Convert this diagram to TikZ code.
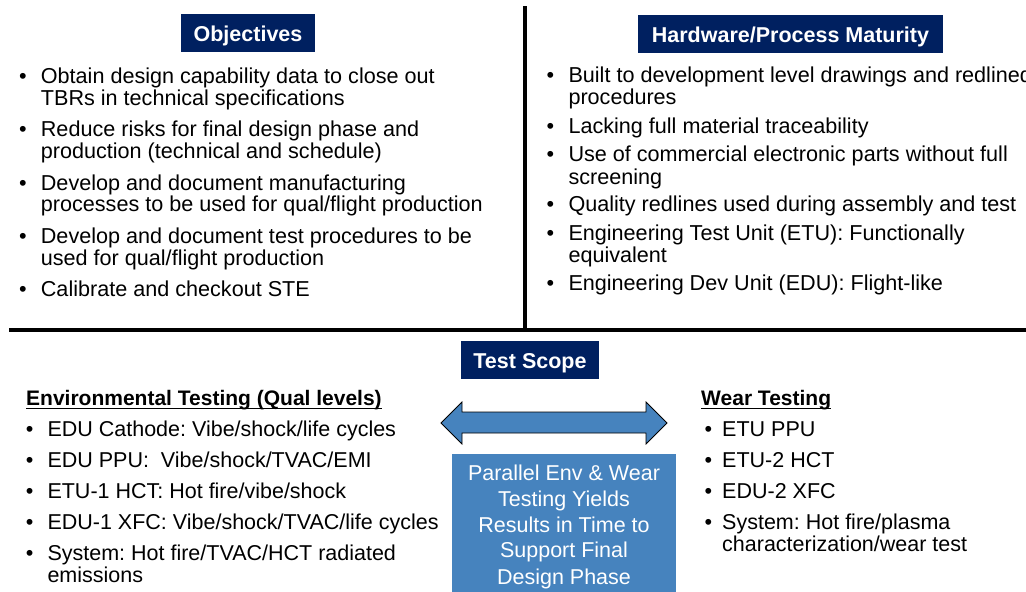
\documentclass[tikz,border=0pt]{standalone}
\usepackage{fontspec}
\setmainfont{Liberation Sans}
\frenchspacing
\definecolor{navy}{RGB}{0,32,96}
\definecolor{steel}{RGB}{70,131,190}
\begin{document}
\begin{tikzpicture}[x=1pt,y=-1pt,
  txt/.style={anchor=base west,inner sep=0pt,font=\fontsize{21.6}{22}\selectfont},
  txtb/.style={anchor=base west,inner sep=0pt,font=\fontsize{21.5}{22}\selectfont},
  bul/.style={anchor=base west,inner sep=0pt,font=\fontsize{21.6}{22}\selectfont},
  head/.style={fill=navy,text=white,inner sep=0pt,font=\fontsize{21.5}{22}\selectfont\bfseries,
    minimum height=38pt,text height=17pt,text depth=0pt},
  subhead/.style={anchor=base west,inner sep=0pt,font=\fontsize{21}{22}\selectfont\bfseries},
  boxtxt/.style={anchor=base,inner sep=0pt,text=white,font=\fontsize{21.5}{26}\selectfont},
  rule/.style={line width=4pt,black}
]
\useasboundingbox (0,0) rectangle (1026,592);
% dividing lines
\coordinate (vtop) at (524.5,6);
\coordinate (vbot) at (524.5,329.5);
\coordinate (hl) at (9,329.5);
\coordinate (hr) at (1026,329.5);
\draw[rule] (vtop) -- (vbot);
\draw[rule] (hl) -- (hr);

% headers
\node[head,minimum width=134pt] (objh) at (248,33) {Objectives};
\node[head,minimum width=305pt] (hwh) at (790.5,34) {Hardware/Process Maturity};
\node[head,minimum width=138pt] (tsh) at (530,360) {Test Scope};

% Objectives
\node[bul] (ob1) at (19,83.3) {•};
\node[txt] (o1a) at (40.7,83.3) {Obtain design capability data to close out};
\node[txt] (o1b) at (40.7,105.3) {TBRs in technical specifications};
\node[bul] (ob2) at (19,136.7) {•};
\node[txt] (o2a) at (40.7,136.7) {Reduce risks for final design phase and};
\node[txt] (o2b) at (40.7,158.3) {production (technical and schedule)};
\node[bul] (ob3) at (19,190) {•};
\node[txt] (o3a) at (40.7,190) {Develop and document manufacturing};
\node[txt] (o3b) at (40.7,211.7) {processes to be used for qual/flight production};
\node[bul] (ob4) at (19,243.3) {•};
\node[txt] (o4a) at (40.7,243.3) {Develop and document test procedures to be};
\node[txt] (o4b) at (40.7,265) {used for qual/flight production};
\node[bul] (ob5) at (19,296.7) {•};
\node[txt] (o5a) at (40.7,296.7) {Calibrate and checkout STE};

% Hardware
\node[bul] (hb1) at (546.5,82.7) {•};
\node[txt] (h1a) at (568.3,82.7) {Built to development level drawings and redlined};
\node[txt] (h1b) at (568.3,104.7) {procedures};
\node[bul] (hb2) at (546.5,133.3) {•};
\node[txt] (h2a) at (568.3,133.3) {Lacking full material traceability};
\node[bul] (hb3) at (546.5,161.7) {•};
\node[txt] (h3a) at (568.3,161.7) {Use of commercial electronic parts without full};
\node[txt] (h3b) at (568.3,184) {screening};
\node[bul] (hb4) at (546.5,211.7) {•};
\node[txt] (h4a) at (568.3,211.7) {Quality redlines used during assembly and test};
\node[bul] (hb5) at (546.5,240.7) {•};
\node[txt] (h5a) at (568.3,240.7) {Engineering Test Unit (ETU): Functionally};
\node[txt] (h5b) at (568.3,262.7) {equivalent};
\node[bul] (hb6) at (546.5,290.7) {•};
\node[txt] (h6a) at (568.3,290.7) {Engineering Dev Unit (EDU): Flight-like};

% Environmental testing
\node[subhead] (envh) at (26,405) {Environmental Testing (Qual levels)};
\draw[line width=1.4pt] ([yshift=-3.5pt]envh.base west) -- ([yshift=-3.5pt]envh.base east);
\node[bul] (eb1) at (25.6,436.7) {•};
\node[txtb] (e1) at (47.3,436.7) {EDU Cathode: Vibe/shock/life cycles};
\node[bul] (eb2) at (25.6,467.3) {•};
\node[txtb] (e2) at (47.3,467.3) {EDU PPU:\ \ Vibe/shock/TVAC/EMI};
\node[bul] (eb3) at (25.6,498.7) {•};
\node[txtb] (e3) at (47.3,498.7) {ETU-1 HCT: Hot fire/vibe/shock};
\node[bul] (eb4) at (25.6,529.3) {•};
\node[txtb] (e4) at (47.3,529.3) {EDU-1 XFC: Vibe/shock/TVAC/life cycles};
\node[bul] (eb5) at (25.6,560.7) {•};
\node[txtb] (e5a) at (47.3,560.7) {System: Hot fire/TVAC/HCT radiated};
\node[txtb] (e5b) at (47.3,582.7) {emissions};

% Wear testing
\node[subhead] (wh) at (701,405) {Wear Testing};
\draw[line width=1.4pt] ([yshift=-3.5pt]wh.base west) -- ([yshift=-3.5pt]wh.base east);
\node[bul] (wb1) at (704.3,436.7) {•};
\node[txtb] (w1) at (722,436.7) {ETU PPU};
\node[bul] (wb2) at (704.3,467.3) {•};
\node[txtb] (w2) at (722,467.3) {ETU-2 HCT};
\node[bul] (wb3) at (704.3,498.7) {•};
\node[txtb] (w3) at (722,498.7) {EDU-2 XFC};
\node[bul] (wb4) at (704.3,529.3) {•};
\node[txtb] (w4a) at (722,529.3) {System: Hot fire/plasma};
\node[txtb] (w4b) at (722,551) {characterization/wear test};

% double arrow
\draw[fill=steel,draw=black,line width=0.8pt,line join=miter]
  (441,423) -- (462,402) -- (462,412) -- (646,412) -- (646,402) -- (667,423)
  -- (646,444) -- (646,433) -- (462,433) -- (462,444) -- cycle;

% blue box
\fill[steel] (452,454) rectangle (676,600);
\node[boxtxt] (p1) at (564,480) {Parallel Env \& Wear};
\node[boxtxt] (p2) at (564,506) {Testing Yields};
\node[boxtxt] (p3) at (564,532) {Results in Time to};
\node[boxtxt] (p4) at (564,557.5) {Support Final};
\node[boxtxt] (p5) at (564,584) {Design Phase};
\end{tikzpicture}
\end{document}
